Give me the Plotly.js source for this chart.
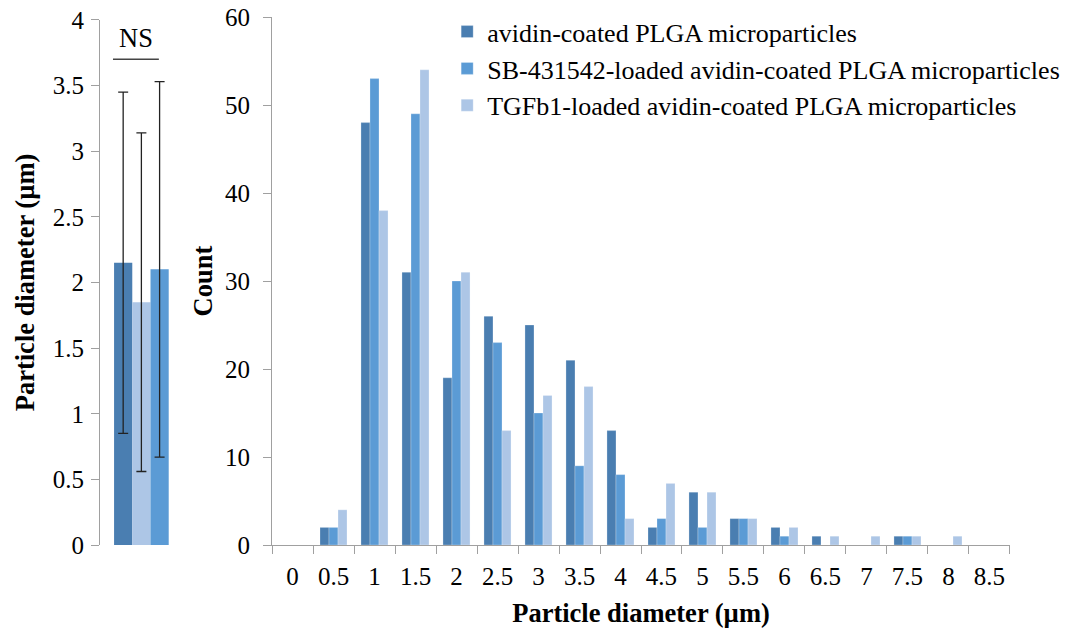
<!DOCTYPE html>
<html>
<head>
<meta charset="utf-8">
<script src="https://cdn.plot.ly/plotly-3.0.1.min.js"></script>
<style>html,body{margin:0;padding:0;background:#fff;}#chart{width:1088px;height:630px;}</style>
</head>
<body>
<div id="chart"></div>
<script>
// Histogram data
var binLabels = ['0','0.5','1','1.5','2','2.5','3','3.5','4','4.5','5','5.5','6','6.5','7','7.5','8','8.5'];
var seriesNames = ['avidin-coated PLGA microparticles','SB-431542-loaded avidin-coated PLGA microparticles','TGFb1-loaded avidin-coated PLGA microparticles'];
var avidinCounts = [0,2,48,31,19,26,25,21,13,2,6,3,2,1,0,1,0,0];
var sbCounts     = [0,2,53,49,30,23,15,9,8,3,2,3,1,0,0,1,0,0];
var tgfCounts    = [0,4,38,54,31,13,17,18,3,7,6,3,2,1,1,1,1,0];
// Mean diameter data (left panel): order avidin, TGFb1, SB
var meanDiameter = [2.15, 1.85, 2.10];
var meanError    = [1.30, 1.29, 1.43];

var cDark = '#4A7EB1', cMid = '#5B9BD5', cLight = '#ADC6E6';
var serif = '"Liberation Serif", "Times New Roman", serif';
var tickSize = 25, titleSize = 26.5, legSize = 26;

var traces = [
  {type:'bar', x:binLabels, y:avidinCounts, name:seriesNames[0], marker:{color:cDark, line:{color:'rgba(255,255,255,0.5)', width:0.5}}, xaxis:'x', yaxis:'y', legendgroup:'a'},
  {type:'bar', x:binLabels, y:sbCounts, name:seriesNames[1], marker:{color:cMid, line:{color:'rgba(255,255,255,0.5)', width:0.5}}, xaxis:'x', yaxis:'y', legendgroup:'b'},
  {type:'bar', x:binLabels, y:tgfCounts, name:seriesNames[2], marker:{color:cLight, line:{color:'rgba(255,255,255,0.5)', width:0.5}}, xaxis:'x', yaxis:'y', legendgroup:'c'},
  {type:'bar', x:['m'], y:[meanDiameter[0]], error_y:{type:'data', array:[meanError[0]], color:'#222', thickness:1.3, width:5}, marker:{color:cDark}, xaxis:'x2', yaxis:'y2', showlegend:false},
  {type:'bar', x:['m'], y:[meanDiameter[1]], error_y:{type:'data', array:[meanError[1]], color:'#222', thickness:1.3, width:5}, marker:{color:cLight}, xaxis:'x2', yaxis:'y2', showlegend:false},
  {type:'bar', x:['m'], y:[meanDiameter[2]], error_y:{type:'data', array:[meanError[2]], color:'#222', thickness:1.3, width:5}, marker:{color:cMid}, xaxis:'x2', yaxis:'y2', showlegend:false}
];

var axisLine = '#A0A0A0';
var layout = {
  width:1088, height:630,
  margin:{l:0, r:0, t:0, b:0},
  paper_bgcolor:'#fff', plot_bgcolor:'#fff',
  barmode:'group', bargap:0.34, bargroupgap:0,
  font:{family:serif, size:tickSize, color:'#000'},
  showlegend:true,
  legend:{x:0.411, y:0.987, xanchor:'left', yanchor:'top', bgcolor:'rgba(0,0,0,0)', font:{family:serif, size:legSize, color:'#000'}, traceorder:'grouped', tracegroupgap:0},
  xaxis:{domain:[0.25, 0.9283], type:'category', showline:true, linecolor:axisLine, linewidth:1, ticks:'outside', tickson:'boundaries', ticklen:8, tickcolor:axisLine, showgrid:false, zeroline:false, tickfont:{family:serif, size:tickSize, color:'#000'}, ticklabelstandoff:9,
         title:{text:'<b>Particle diameter (µm)</b>', font:{family:serif, size:titleSize, color:'#000'}, standoff:14}, anchor:'y', fixedrange:true},
  yaxis:{domain:[0.1349, 0.973], range:[0,60], dtick:10, showline:true, linecolor:axisLine, linewidth:1, ticks:'outside', ticklen:8, tickcolor:axisLine, showgrid:false, zeroline:false, tickfont:{family:serif, size:tickSize, color:'#000'}, ticklabelstandoff:8,
         title:{text:'<b>Count</b>', font:{family:serif, size:titleSize, color:'#000'}, standoff:4}, anchor:'x'},
  xaxis2:{domain:[0.0919, 0.168], type:'category', range:[-0.5,0.5], showline:false, showticklabels:false, ticks:'', showgrid:false, zeroline:false, anchor:'y2'},
  yaxis2:{domain:[0.1349, 0.9683], range:[0,4], dtick:0.5, showline:true, linecolor:axisLine, linewidth:1, ticks:'outside', ticklen:8, tickcolor:axisLine, showgrid:false, zeroline:false, tickfont:{family:serif, size:tickSize, color:'#000'}, ticklabelstandoff:2,
          title:{text:'<b>Particle diameter (µm)</b>', font:{family:serif, size:titleSize, color:'#000'}, standoff:10}, anchor:'x2'},
  shapes:[{type:'line', xref:'x2', yref:'y2', x0:-0.343, x1:0.211, y0:3.7, y1:3.7, line:{color:'#444', width:1.5}}],
  annotations:[{xref:'x2', yref:'y2', x:-0.066, y:3.86, text:'NS', showarrow:false, font:{family:serif, size:titleSize, color:'#000'}}]
};

Plotly.newPlot('chart', traces, layout, {displayModeBar:false, staticPlot:true});
</script>
</body>
</html>
